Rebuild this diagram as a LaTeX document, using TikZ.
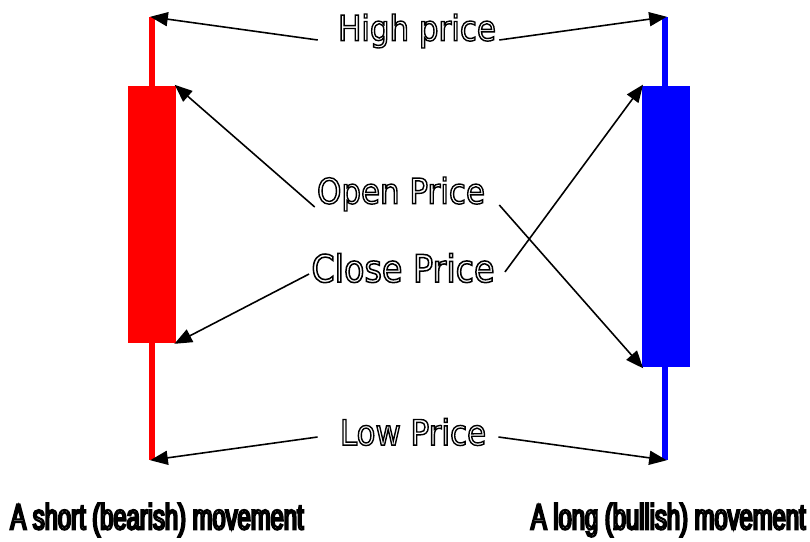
\documentclass[tikz,border=0pt]{standalone}
\usepackage{fontspec}
\usetikzlibrary{arrows.meta}
\newfontfamily\lblfont{DejaVu Sans}[FakeStretch=0.88]
\newfontfamily\movefont{Liberation Sans}[FakeStretch=0.66]
\newcommand{\hollow}[2][0.8]{\special{pdf:literal direct 1 Tr #1 w}#2\special{pdf:literal direct 0 Tr}}
\tikzset{
    lbl/.style={inner sep=0pt, font=\lblfont\fontsize{20}{22}\selectfont},
    movelbl/.style={inner sep=0pt, font=\movefont\fontsize{20.5}{22}\selectfont},
    ptr/.style={-{Triangle[length=10pt,width=8pt]}, line width=0.9pt, shorten >=-1pt}
}
\begin{document}
\begin{tikzpicture}[x=0.02cm, y=-0.02cm]
    \useasboundingbox (0,0) rectangle (810,541);

    % Bearish candle (red)
    \fill[red] (149,17) rectangle (155,460);
    \fill[red] (128,86) rectangle (176,343);
    \coordinate (rhigh) at (152,17);
    \coordinate (ropen) at (176,86);
    \coordinate (rclose) at (176,343);
    \coordinate (rlow) at (152,460);

    % Bullish candle (blue)
    \fill[blue] (662,17) rectangle (668,460);
    \fill[blue] (642,86) rectangle (690,367);
    \coordinate (bhigh) at (665,17);
    \coordinate (bclose) at (642,86);
    \coordinate (bopen) at (642,367);
    \coordinate (blow) at (665,460);

    % Labels
    \node[lbl] (high) at (417,31) {\hollow{High price}};
    \node[lbl] (open) at (401,194) {\hollow{Open Price}};
    \node[lbl, scale=1.08] (close) at (403,268) {\hollow{Close Price}};
    \node[lbl] (low) at (413,432) {\hollow{Low Price}};
    \node[movelbl, anchor=west] (bear) at (10,520) {\hollow[1.2]{A short (bearish) movement}};
    \node[movelbl, anchor=east] (bull) at (806,520) {\hollow[1.2]{A long (bullish) movement}};

    % Pointers
    \draw[ptr] (high.west) ++(-20,9) -- (rhigh);
    \draw[ptr] (high.east) ++(3,9) -- (bhigh);
    \draw[ptr] (open.west) ++(-2,13) -- (ropen);
    \draw[ptr] (open.east) ++(14,11) -- (bopen);
    \draw[ptr] (close.west) ++(-2,6) -- (rclose);
    \draw[ptr] (close.east) ++(10,4) -- (bclose);
    \draw[ptr] (low.west) ++(-22,5) -- (rlow);
    \draw[ptr] (low.east) ++(12,5) -- (blow);
\end{tikzpicture}
\end{document}
